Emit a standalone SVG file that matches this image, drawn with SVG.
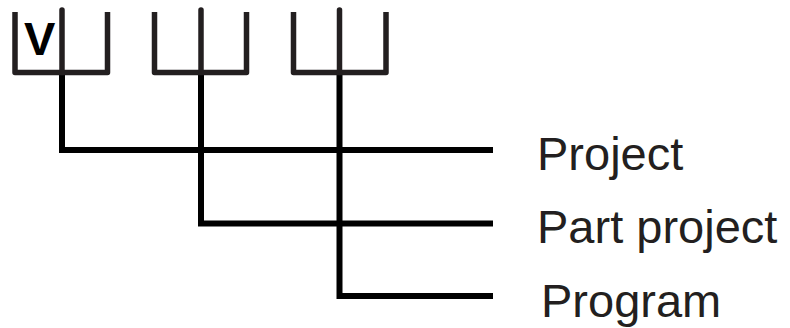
<svg xmlns="http://www.w3.org/2000/svg" width="790" height="328" viewBox="0 0 790 328">
<style>
.br{fill:none;stroke:#231f20;stroke-width:5.5;stroke-linejoin:round;stroke-linecap:butt}
.stub{fill:none;stroke:#231f20;stroke-width:5.5;stroke-linecap:round}
.con{fill:none;stroke:#000;stroke-width:6;stroke-linejoin:miter;stroke-linecap:butt}
.lbl{font-family:"Liberation Sans",Arial,sans-serif;font-size:47px;fill:#231f20}
.v{font-family:"Liberation Sans",Arial,sans-serif;font-size:47px;font-weight:bold;fill:#000}
</style>
<rect width="790" height="328" fill="#fff"/>
<g id="connectors">
<path class="con" d="M62,72 V150 H493"/>
<path class="con" d="M201,72 V223.5 H493"/>
<path class="con" d="M339.5,72 V296 H493"/>
</g>
<g id="bracket1">
<path class="br" d="M15,12 V72.5 H107.5 V12"/>
<path class="stub" d="M62,10 V72.5"/>
<text class="v" x="24" y="55">V</text>
</g>
<g id="bracket2">
<path class="br" d="M154.5,12 V72.5 H246.5 V12"/>
<path class="stub" d="M201,10 V72.5"/>
</g>
<g id="bracket3">
<path class="br" d="M293.5,12 V72.5 H386 V12"/>
<path class="stub" d="M339.5,10 V72.5"/>
</g>
<g id="label-project"><text class="lbl" x="537" y="170">Project</text></g>
<g id="label-part-project"><text class="lbl" x="537" y="243">Part project</text></g>
<g id="label-program"><text class="lbl" x="541" y="317">Program</text></g>
</svg>
